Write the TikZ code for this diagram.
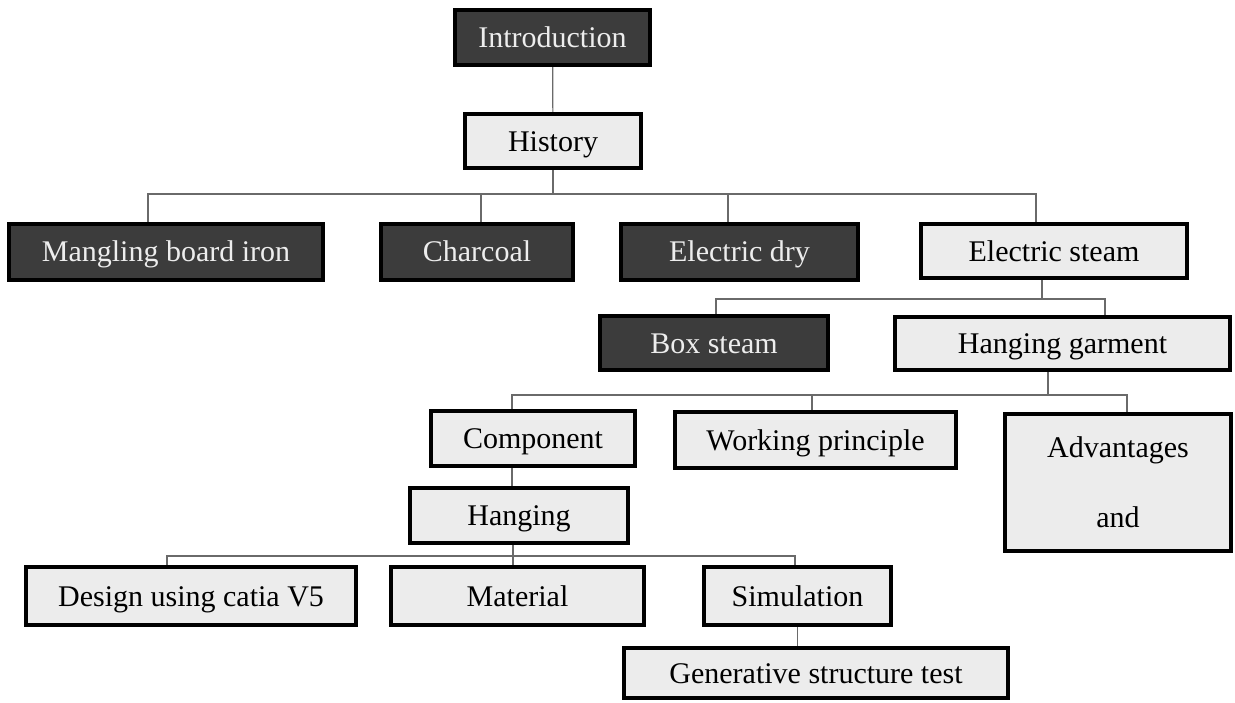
\documentclass[tikz,border=0pt]{standalone}
\usepackage{fontspec}
\setmainfont{Liberation Serif}
\usetikzlibrary{backgrounds}

\definecolor{fondsombre}{HTML}{3C3C3C}
\definecolor{fondclair}{HTML}{ECECEC}
\definecolor{trait}{HTML}{6A6A6A}

\tikzset{boite/.style  = {draw, line width = 2pt, inner sep = 0pt,
                          minimum height = 28pt,
                          text height = 11.5pt, text depth = 1.5pt,
                          font = \fontsize{15}{18}\selectfont},
         sombre/.style = {boite, fill = fondsombre, text = white!93!black, minimum width = #1},
         clair/.style  = {boite, fill = fondclair, text = black, minimum width = #1},
         sombre/.default = 100pt,
         clair/.default  = 100pt,
         lien/.style = {draw = trait, line width = 0.6pt}
        }

\begin{document}
\begin{tikzpicture}[x = 0.5pt, y = -0.5pt]
  \useasboundingbox (0,0) rectangle (1235,702);

  \node[sombre = 97.5pt, minimum height = 27.5pt] (intro)    at (552.5,37.5) {Introduction};
  \node[clair = 88pt, minimum height = 27pt]      (histoire) at (553,141)    {History};

  \node[sombre = 157pt]   (repasser) at (166,251.5)   {Mangling board iron};
  \node[sombre = 96pt]    (charbon)  at (477,251.5)   {Charcoal};
  \node[sombre = 118.5pt] (elecsec)  at (739.5,251.5) {Electric dry};
  \node[clair = 133pt, minimum height = 27pt] (elecvap) at (1054,251) {Electric steam};

  \node[sombre = 114pt, minimum height = 27pt]  (boite)    at (714,343)    {Box steam};
  \node[clair = 167.5pt, minimum height = 26.5pt] (vetement) at (1062.5,343.5) {Hanging garment};

  \node[clair = 102pt, minimum height = 27.5pt]   (composant) at (533,438.5)  {Component};
  \node[clair = 140.5pt]                          (principe)  at (815.5,440)  {Working principle};
  \node[clair = 113pt, minimum height = 68.5pt, align = center, text height =, text depth =]
                                                  (avantages) at (1118,482.5) {Advantages\\[17pt]and};
  \node[clair = 109pt, minimum height = 27.5pt]   (suspendu)  at (519,515.5)  {Hanging};

  \node[clair = 165pt, minimum height = 29pt]   (conception) at (191,596)   {Design using catia V5};
  \node[clair = 126.5pt, minimum height = 29pt] (materiau)   at (517.5,596) {Material};
  \node[clair = 93.5pt, minimum height = 29pt]  (simulation) at (797.5,596) {Simulation};
  \node[clair = 192pt, minimum height = 25pt]   (essai)      at (816,673)   {Generative structure test};

  \begin{scope}[on background layer]
    \coordinate (bus1) at (0,194);
    \coordinate (bus2) at (0,299);
    \coordinate (bus3) at (0,395);
    \coordinate (bus4) at (0,556);

    \draw[lien] (intro) -- (histoire);
    \draw[lien] (histoire.south) -- (histoire.south |- bus1);
    \draw[lien] ([xshift = -9pt]repasser.north) |- ([xshift = -9pt]elecvap.north |- bus1)
                                               -- ([xshift = -9pt]elecvap.north);
    \foreach \n/\dx in {charbon/2pt, elecsec/-5.75pt}
      \draw[lien] ([xshift = \dx]\n.north) -- ([xshift = \dx]\n.north |- bus1);

    \draw[lien] ([xshift = -6pt]elecvap.south) -- ([xshift = -6pt]elecvap.south |- bus2);
    \draw[lien] ([xshift = 1pt]boite.north) |- ([xshift = 21.25pt]vetement.north |- bus2)
                                           -- ([xshift = 21.25pt]vetement.north);

    \draw[lien] ([xshift = -7.25pt]vetement.south) -- ([xshift = -7.25pt]vetement.south |- bus3);
    \draw[lien] ([xshift = -10.5pt]composant.north) |- ([xshift = 4.5pt]avantages.north |- bus3)
                                                   -- ([xshift = 4.5pt]avantages.north);
    \draw[lien] ([xshift = -1.75pt]principe.north) -- ([xshift = -1.75pt]principe.north |- bus3);
    \draw[lien] ([xshift = -10.5pt]composant.south) -- ([xshift = -10.5pt]composant.south |- suspendu.north);

    \draw[lien] ([xshift = -3pt]suspendu.south) -- ([xshift = -3pt]suspendu.south |- materiau.north);
    \draw[lien] ([xshift = -12pt]conception.north) |- ([xshift = -1.25pt]simulation.north |- bus4)
                                                  -- ([xshift = -1.25pt]simulation.north);
    \draw[lien] (simulation.south) -- (simulation.south |- essai.north);
  \end{scope}
\end{tikzpicture}
\end{document}
